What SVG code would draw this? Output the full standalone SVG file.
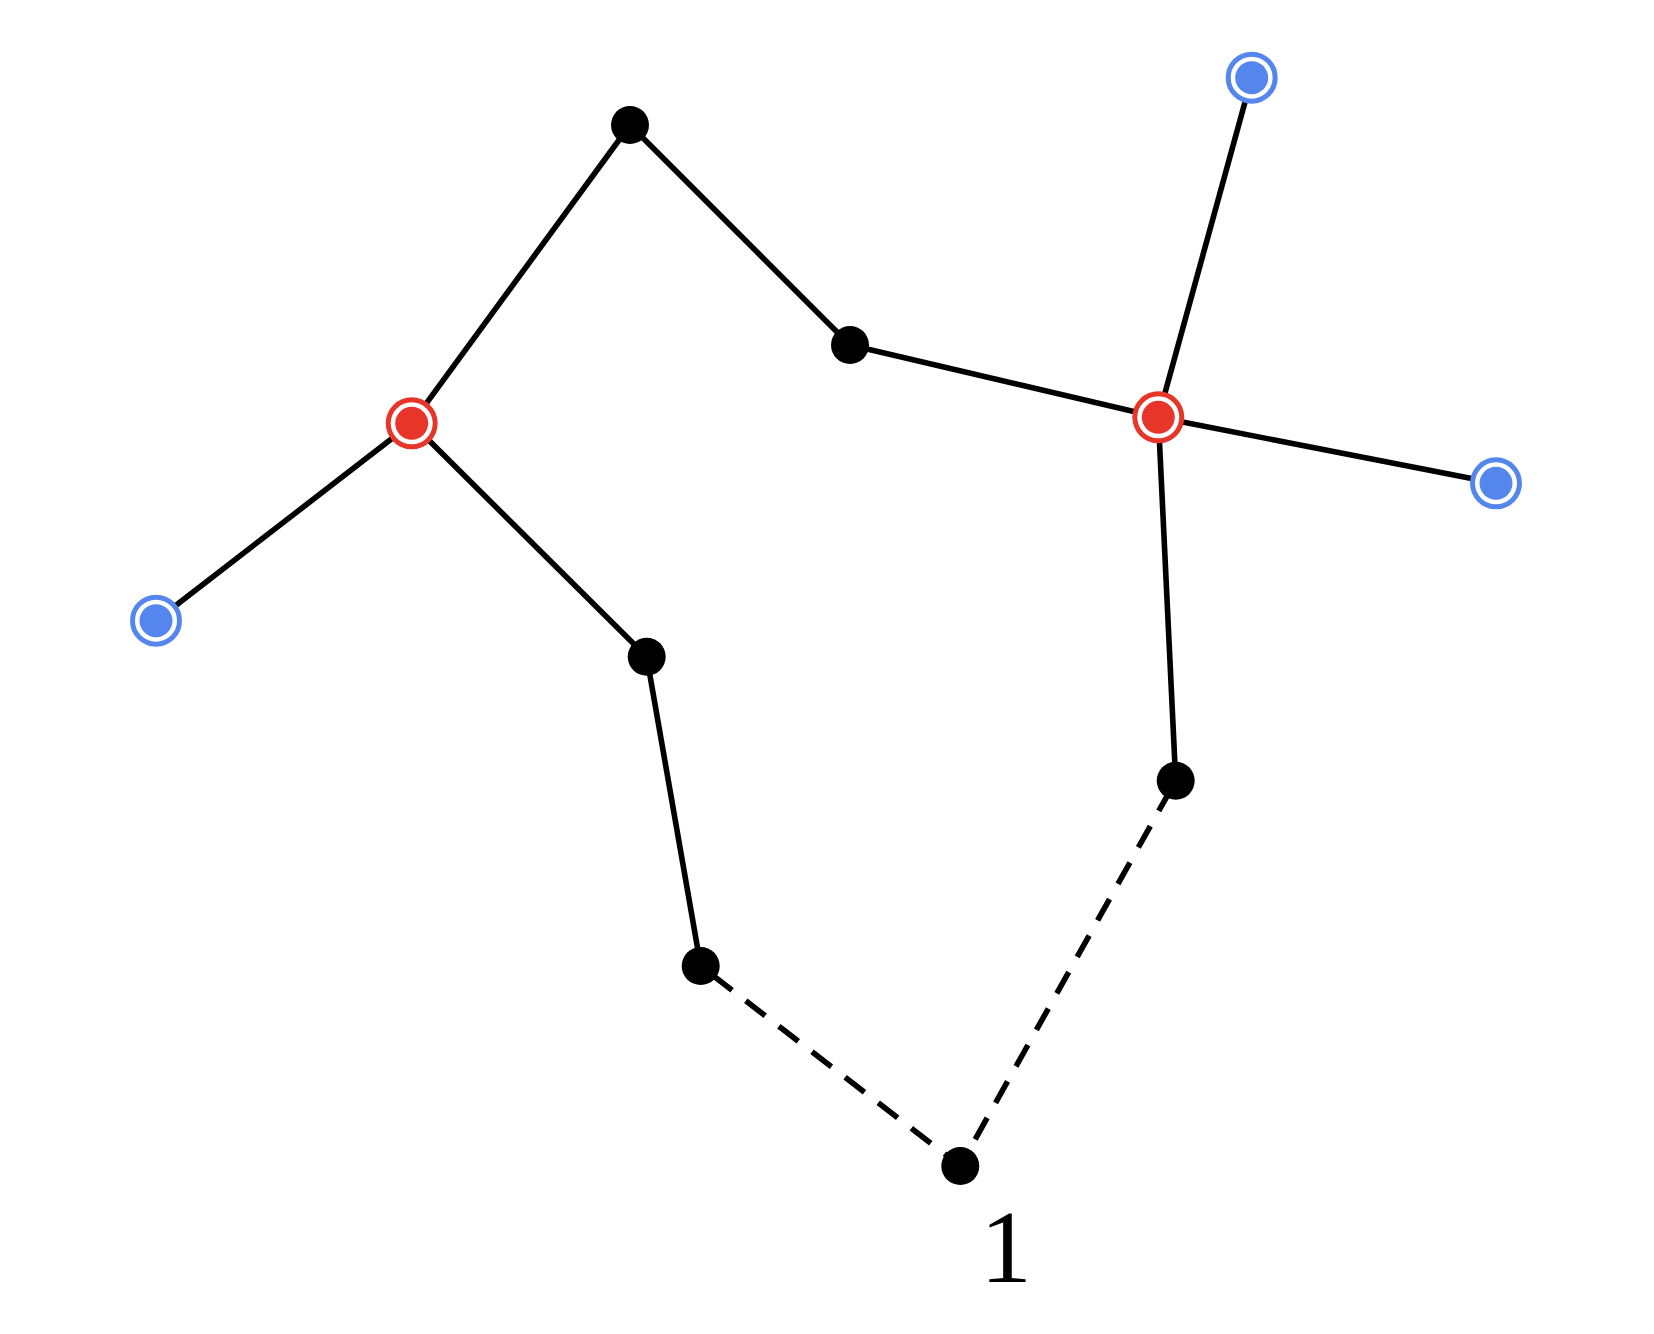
<svg xmlns="http://www.w3.org/2000/svg" width="1654" height="1334" viewBox="0 0 1654 1334">
<style>
.e{stroke:#000;stroke-width:5.6;fill:none}
.d{stroke:#000;stroke-width:5.6;fill:none;stroke-dasharray:24.5 17.3}
.b{fill:#000}
.rr{fill:#fff;stroke:#E8352A;stroke-width:5}
.ri{fill:#E8352A}
.br{fill:#fff;stroke:#5586ED;stroke-width:5}
.bi{fill:#5586ED}
.lbl{font-family:"Liberation Serif","DejaVu Serif",serif;font-size:103px;fill:#000}
</style>
<rect width="1654" height="1334" fill="#fff"/>
<g id="connectors">
<line class="e" x1="630" y1="125" x2="411.7" y2="423.3"/>
<line class="e" x1="630" y1="125" x2="850" y2="345"/>
<line class="e" x1="850" y1="345" x2="1158.3" y2="417.3"/>
<line class="e" x1="1158.3" y1="417.3" x2="1251.7" y2="77.7"/>
<line class="e" x1="1158.3" y1="417.3" x2="1496" y2="483.3"/>
<line class="e" x1="1158.3" y1="417.3" x2="1175.7" y2="780.7"/>
<line class="e" x1="411.7" y1="423.3" x2="156" y2="620.7"/>
<line class="e" x1="411.7" y1="423.3" x2="646.7" y2="656.7"/>
<line class="e" x1="646.7" y1="656.7" x2="700.7" y2="966"/>
<line class="d" x1="700.7" y1="966" x2="960.3" y2="1166" stroke-dashoffset="-15.1"/>
<line class="d" x1="1175.7" y1="780.7" x2="960.3" y2="1166" stroke-dashoffset="-10.2"/>
</g>
<g id="n_top"><circle class="b" cx="630" cy="125" r="19"/></g>
<g id="n_mid"><circle class="b" cx="850" cy="345" r="19"/></g>
<g id="n_left_low"><circle class="b" cx="646.7" cy="656.7" r="19"/></g>
<g id="n_left_bottom"><circle class="b" cx="700.7" cy="966" r="19"/></g>
<g id="n_right_low"><circle class="b" cx="1175.7" cy="780.7" r="19"/></g>
<g id="n_1"><circle class="b" cx="960.3" cy="1166" r="19"/><text class="lbl" x="1006" y="1282" text-anchor="middle">1</text></g>
<g id="red_left"><circle class="rr" cx="411.7" cy="423.3" r="23.5"/><circle class="ri" cx="411.7" cy="423.3" r="16.5"/></g>
<g id="red_right"><circle class="rr" cx="1158.3" cy="417.3" r="23.5"/><circle class="ri" cx="1158.3" cy="417.3" r="16.5"/></g>
<g id="blue_top"><circle class="br" cx="1251.7" cy="77.7" r="23.5"/><circle class="bi" cx="1251.7" cy="77.7" r="16.5"/></g>
<g id="blue_right"><circle class="br" cx="1496" cy="483.3" r="23.5"/><circle class="bi" cx="1496" cy="483.3" r="16.5"/></g>
<g id="blue_left"><circle class="br" cx="156" cy="620.7" r="23.5"/><circle class="bi" cx="156" cy="620.7" r="16.5"/></g>
</svg>
